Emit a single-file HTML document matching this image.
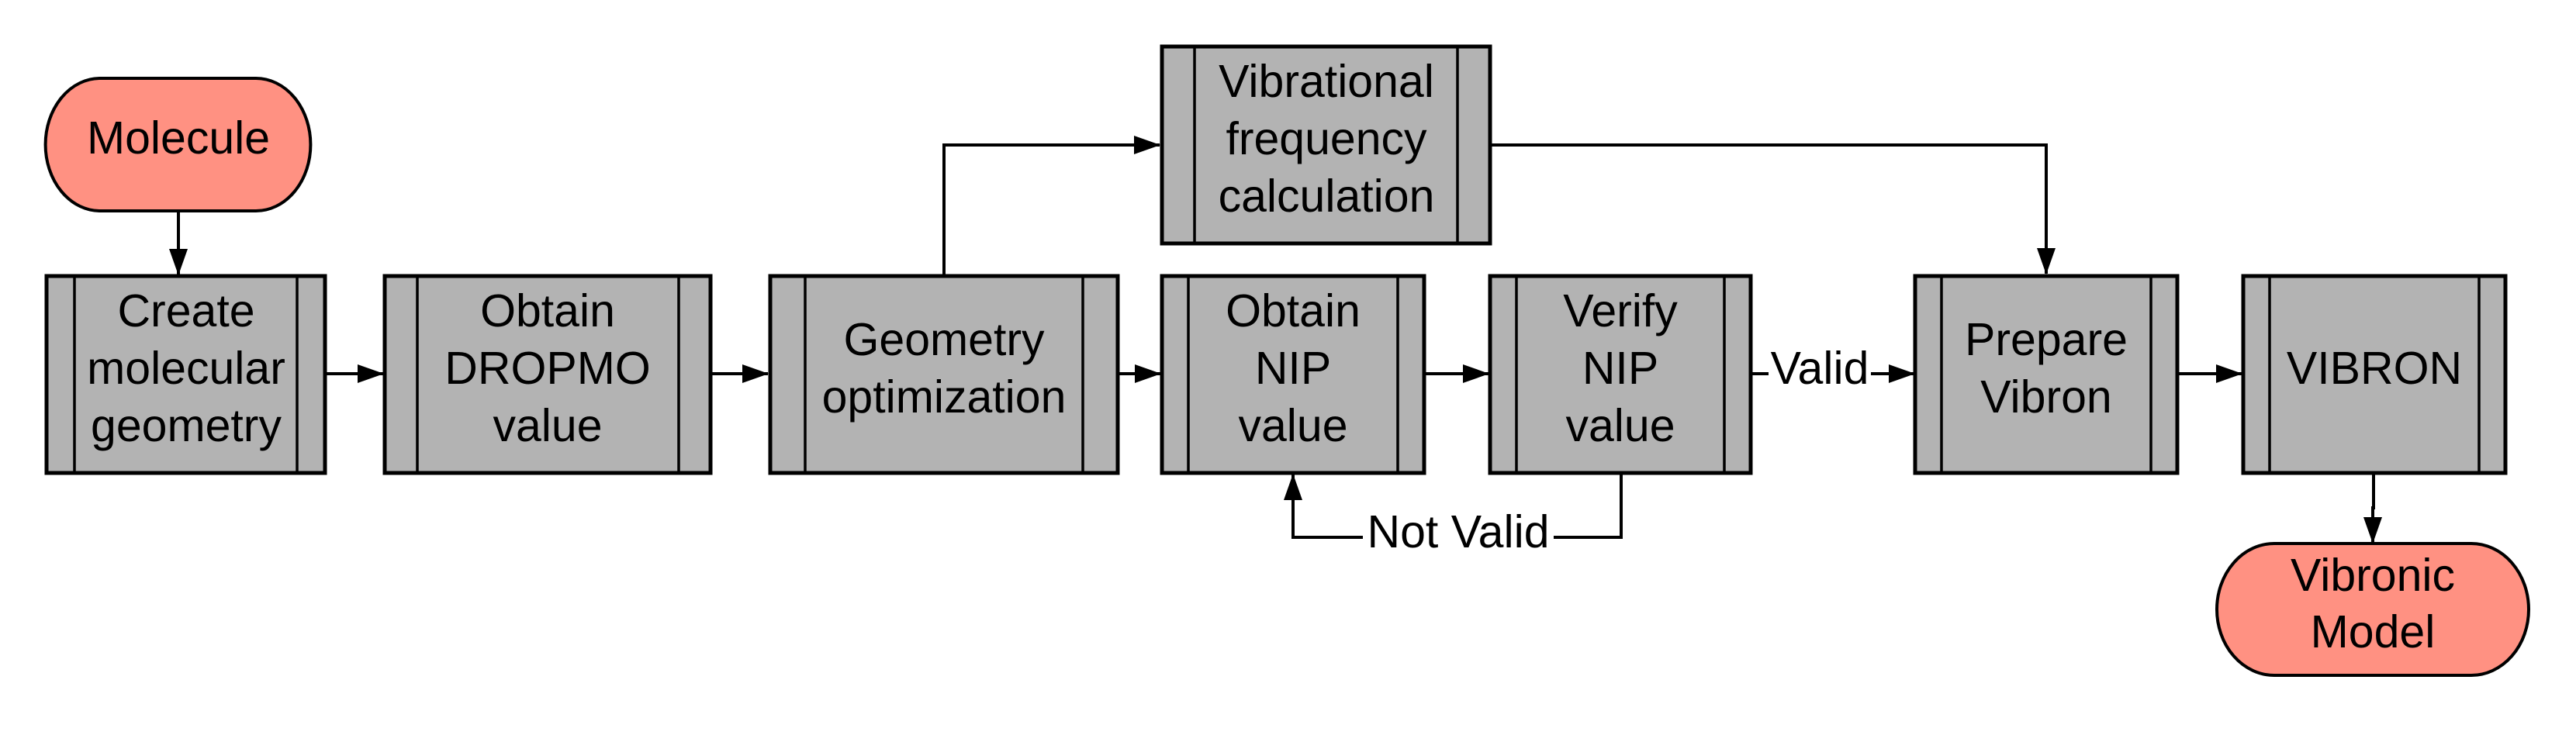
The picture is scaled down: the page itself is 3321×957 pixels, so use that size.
<!DOCTYPE html>
<html><head><meta charset="utf-8"><style>
html,body{margin:0;padding:0;background:#fff;}
svg{display:block;}
text{font-family:"Liberation Sans",sans-serif;font-size:59px;fill:#000;text-anchor:middle;}
</style></head><body>
<svg width="3321" height="957" viewBox="0 0 3321 957" xmlns="http://www.w3.org/2000/svg">
<defs>
<marker id="a" markerWidth="34" markerHeight="24" refX="33" refY="12" orient="auto" markerUnits="userSpaceOnUse">
<path d="M0,0 L34,12 L0,24 Z" fill="#000"/>
</marker>
</defs>
<g stroke="#000" stroke-width="4" fill="none">
<line x1="230" y1="272" x2="230" y2="354" marker-end="url(#a)"/>
<line x1="419" y1="482" x2="494" y2="482" marker-end="url(#a)"/>
<line x1="916" y1="482" x2="990" y2="482" marker-end="url(#a)"/>
<line x1="1441" y1="482" x2="1496" y2="482" marker-end="url(#a)"/>
<line x1="1836" y1="482" x2="1919" y2="482" marker-end="url(#a)"/>
<polyline points="1217,355 1217,187 1495,187" marker-end="url(#a)"/>
<polyline points="1921,187 2638,187 2638,353" marker-end="url(#a)"/>
<line x1="2257" y1="482" x2="2280" y2="482"/>
<line x1="2412" y1="482" x2="2468" y2="482" marker-end="url(#a)"/>
<line x1="2807" y1="482" x2="2890" y2="482" marker-end="url(#a)"/>
<polyline points="3060,610 3060,655 3059,655 3059,700" marker-end="url(#a)"/>
<polyline points="2090,610 2090,693 2003,693"/>
<polyline points="1757,693 1667,693 1667,612" marker-end="url(#a)"/>
</g>
<g stroke="#000" stroke-width="4" fill="#ff9182">
<path d="M129,101 H330 A70,85 0 0 1 330,272 H129 A70,85 0 0 1 129,101 Z"/>
<path d="M2932,701 H3186 A74,85 0 0 1 3186,871 H2932 A74,85 0 0 1 2932,701 Z"/>
</g>
<g stroke="#000" fill="#b3b3b3">
<g stroke-width="5">
<rect x="60" y="356" width="359" height="254"/>
<rect x="496" y="356" width="420" height="254"/>
<rect x="993" y="356" width="448" height="254"/>
<rect x="1498" y="60" width="423" height="254"/>
<rect x="1498" y="356" width="338" height="254"/>
<rect x="1921" y="356" width="336" height="254"/>
<rect x="2469" y="356" width="338" height="254"/>
<rect x="2892" y="356" width="338" height="254"/>
</g>
<g stroke-width="3.5">
<line x1="96" y1="356" x2="96" y2="610"/><line x1="383" y1="356" x2="383" y2="610"/>
<line x1="538" y1="356" x2="538" y2="610"/><line x1="875" y1="356" x2="875" y2="610"/>
<line x1="1038" y1="356" x2="1038" y2="610"/><line x1="1396" y1="356" x2="1396" y2="610"/>
<line x1="1540" y1="60" x2="1540" y2="314"/><line x1="1879" y1="60" x2="1879" y2="314"/>
<line x1="1532" y1="356" x2="1532" y2="610"/><line x1="1802" y1="356" x2="1802" y2="610"/>
<line x1="1955" y1="356" x2="1955" y2="610"/><line x1="2223" y1="356" x2="2223" y2="610"/>
<line x1="2503" y1="356" x2="2503" y2="610"/><line x1="2773" y1="356" x2="2773" y2="610"/>
<line x1="2926" y1="356" x2="2926" y2="610"/><line x1="3196" y1="356" x2="3196" y2="610"/>
</g>
</g>
<text x="230" y="198">Molecule</text>
<text x="240" y="421">Create</text><text x="240" y="495">molecular</text><text x="240" y="569">geometry</text>
<text x="706" y="421">Obtain</text><text x="706" y="495">DROPMO</text><text x="706" y="569">value</text>
<text x="1217" y="458">Geometry</text><text x="1217" y="532">optimization</text>
<text x="1710" y="125">Vibrational</text><text x="1710" y="199">frequency</text><text x="1710" y="273">calculation</text>
<text x="1667" y="421">Obtain</text><text x="1667" y="495">NIP</text><text x="1667" y="569">value</text>
<text x="2089" y="421">Verify</text><text x="2089" y="495">NIP</text><text x="2089" y="569">value</text>
<text x="2346" y="495">Valid</text>
<text x="1880" y="706">Not Valid</text>
<text x="2638" y="458">Prepare</text><text x="2638" y="532">Vibron</text>
<text x="3061" y="495">VIBRON</text>
<text x="3059" y="762">Vibronic</text><text x="3059" y="835">Model</text>
</svg>
</body></html>
